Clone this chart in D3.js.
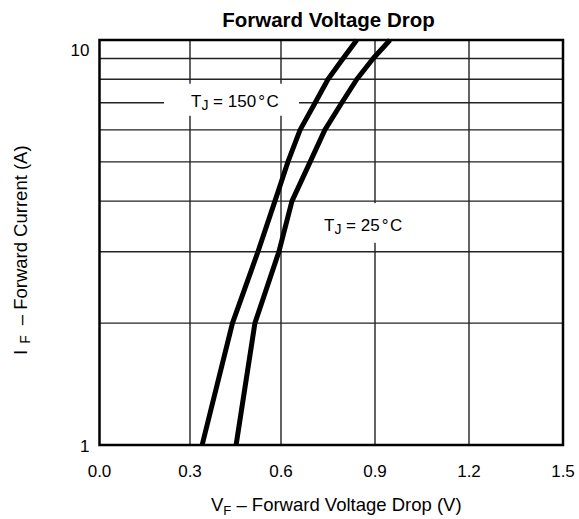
<!DOCTYPE html>
<html>
<head>
<meta charset="utf-8">
<script src="https://cdn.jsdelivr.net/npm/d3@7"></script>
<style>
body { margin: 0; background: #fff; }
text { font-family: "Liberation Sans", Arial, Helvetica, sans-serif; fill: #000; }
.grid line { stroke: #222; stroke-width: 1.4; }
</style>
</head>
<body>
<div id="chart"></div>
<script>
// forward current (A) and VF readings (V) for both junction temps
const currentA = [1, 2, 3, 4, 5, 6, 7, 8, 9, 10];
const vf150 = [0.34, 0.44, 0.524, 0.58, 0.622, 0.661, 0.709, 0.75, 0.798, 0.842];
const vf25 = [0.452, 0.514, 0.593, 0.635, 0.693, 0.74, 0.794, 0.842, 0.894, 0.948];

const xTicks = [0, 0.3, 0.6, 0.9, 1.2, 1.5];
const yTicks = [1, 10];
const yGrid = [2, 3, 4, 5, 6, 7, 8, 9];

const width = 579;
const height = 519;

const svg = d3.select("#chart")
    .append("svg")
    .attr("width", width)
    .attr("height", height);

// x scale: the printed grid is a bit uneven, so map each tick
const x = d3.scaleLinear()
    .domain(xTicks)
    .range([99.5, 190, 281, 375, 469, 563]);

// log scale for current
const y = d3.scaleLog()
    .domain([1, 10])
    .range([445, 40]);

const plotL = x(0), plotR = x(1.5), plotT = y(10), plotB = y(1);

// grid
const grid = svg.append("g").attr("class", "grid");
grid.selectAll(".v")
    .data(xTicks.slice(1, -1))
    .join("line")
    .attr("x1", d => x(d)).attr("x2", d => x(d))
    .attr("y1", plotT).attr("y2", plotB);
grid.selectAll(".h")
    .data(yGrid)
    .join("line")
    .attr("x1", plotL).attr("x2", plotR)
    .attr("y1", d => y(d)).attr("y2", d => y(d));

// white boxes behind the labels
svg.append("rect")
    .attr("x", x(0.3) - 26).attr("y", y(7) - 19)
    .attr("width", x(0.6) + 18 - (x(0.3) - 26))
    .attr("height", 32)
    .attr("fill", "#fff");
svg.append("rect")
    .attr("x", x(0.9) - 57).attr("y", y(4) + 2)
    .attr("width", 94)
    .attr("height", y(3) - 9 - (y(4) + 2))
    .attr("fill", "#fff");

// curves
const line = d3.line()
    .x(d => x(d[1]))
    .y(d => y(d[0]));

[vf150, vf25].forEach(vals => {
    svg.append("path")
        .datum(currentA.map((c, i) => [c, vals[i]]))
        .attr("d", line)
        .attr("fill", "none")
        .attr("stroke", "#000")
        .attr("stroke-width", 5)
        .attr("stroke-linejoin", "round");
});

// frame
svg.append("rect")
    .attr("x", plotL).attr("y", plotT)
    .attr("width", plotR - plotL).attr("height", plotB - plotT)
    .attr("fill", "none")
    .attr("stroke", "#000")
    .attr("stroke-width", 2.5);

// tick labels
svg.selectAll(".xt")
    .data(xTicks)
    .join("text")
    .attr("x", d => x(d))
    .attr("y", plotB + 32)
    .attr("text-anchor", "middle")
    .attr("font-size", 17)
    .text(d => d.toFixed(1));

svg.selectAll(".yt")
    .data(yTicks)
    .join("text")
    .attr("x", plotL - 10)
    .attr("y", d => d === 10 ? y(d) + 16 : y(d) + 7)
    .attr("text-anchor", "end")
    .attr("font-size", 17)
    .text(d => d);

// TJ labels
function tjLabel(tx, ty, temp) {
    const t = svg.append("text")
        .attr("x", tx).attr("y", ty)
        .attr("font-size", 17);
    t.append("tspan").text("T");
    t.append("tspan").attr("font-size", 14).attr("dy", 3).text("J");
    t.append("tspan").attr("dy", -3).text(" = " + temp);
    t.append("tspan").attr("dx", 2).text("\u00B0");
    t.append("tspan").attr("dx", 1.5).text("C");
}
tjLabel(x(0.3) + 1, y(7) + 4, 150);
tjLabel(x(0.9) - 51, y(4) + 30, 25);

// title
svg.append("text")
    .attr("x", 328.5).attr("y", 27)
    .attr("text-anchor", "middle")
    .attr("font-size", 20.5)
    .attr("font-weight", "bold")
    .text("Forward Voltage Drop");

// x title
const xt = svg.append("text")
    .attr("x", 211).attr("y", 511)
    .attr("font-size", 18.5);
xt.append("tspan").text("V");
xt.append("tspan").attr("font-size", 13).attr("dy", 4).text("F");
xt.append("tspan").attr("dy", -4).text(" \u2013 Forward Voltage Drop (V)");

// y title
const yt = svg.append("text")
    .attr("transform", "translate(27,355) rotate(-90)")
    .attr("font-size", 18.5);
yt.append("tspan").text("I");
yt.append("tspan").attr("font-size", 14).attr("dx", 6).attr("dy", 3).text("F");
yt.append("tspan").attr("dy", -3).attr("dx", 10).text("\u2013 Forward Current (A)");
</script>
</body>
</html>
